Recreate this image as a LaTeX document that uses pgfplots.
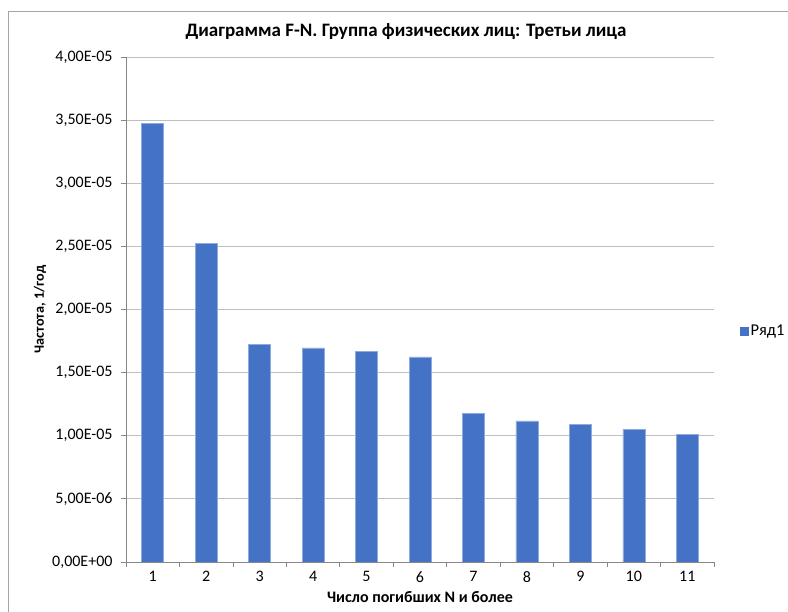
\documentclass[border=0pt]{standalone}
\usepackage{pgfplots}
\pgfplotsset{compat=1.18}
\usepackage{fontspec}
\setmainfont{Carlito}
\definecolor{barblue}{HTML}{4472C4}
\definecolor{baredge}{HTML}{8FAADC}
\definecolor{gridgray}{HTML}{BFBFBF}
\definecolor{axisgray}{HTML}{868686}
\definecolor{framegray}{HTML}{A6A6A6}
\begin{document}
\begin{tikzpicture}[x=1pt,y=1pt]
\useasboundingbox (0,0) rectangle (788,612);
% chart frame
\draw[framegray, line width=1pt] (8,-2) -- (8,600) -- (790,600);
\begin{axis}[
  at={(126pt,50pt)}, anchor=south west,
  width=588pt, height=505pt, scale only axis,
  xmin=0.5, xmax=11.5, ymin=0, ymax=4e-5,
  axis lines=left,
  axis line style={-, draw=axisgray, line width=0.8pt},
  ybar, bar width=22pt,
  tick align=outside,
  major tick length=5pt,
  tick style={draw=axisgray, line width=0.8pt},
  xtick={0.5,1.5,...,11.5}, xticklabels={},
  extra x ticks={1,2,3,4,5,6,7,8,9,10,11},
  extra x tick labels={1,2,3,4,5,6,7,8,9,10,11},
  extra x tick style={major tick length=0pt, grid=none,
    xticklabel style={yshift=-6pt}},
  ytick={0,0.000005,0.00001,0.000015,0.00002,0.000025,0.00003,0.000035,0.00004},
  yticklabels={{0,00E+00},{5,00E-06},{1,00E-05},{1,50E-05},{2,00E-05},{2,50E-05},{3,00E-05},{3,50E-05},{4,00E-05}},
  yticklabel style={xshift=-5pt},
  scaled y ticks=false,
  ymajorgrids, grid style={draw=gridgray, line width=0.8pt},
  tick label style={font=\fontsize{16}{18}\selectfont, text=black},
  /pgf/number format/assume math mode=true,
  title={Диаграмма F-N. Группа физических лиц: Третьи лица},
  title style={at={(axis description cs:0.5,1)}, anchor=center, yshift=19pt, xshift=-14pt, font=\bfseries\fontsize{19}{22}\selectfont},
  xlabel={Число погибших N и более},
  xlabel style={at={(axis description cs:0.5,0)}, anchor=center, yshift=-35pt, font=\bfseries\fontsize{16}{18}\selectfont},
  ylabel={Частота, 1/год},
  ylabel style={at={(axis description cs:0,0.5)}, anchor=center, yshift=86pt, font=\bfseries\fontsize{14.2}{17}\selectfont},
  legend style={at={(axis description cs:1.044,0.457)}, anchor=west, draw=none, fill=none, inner sep=0pt, font=\fontsize{16.5}{18}\selectfont},
  legend image code/.code={\fill[barblue] (0pt,-4pt) rectangle (8pt,4pt);},
  legend cell align=left,
]
\addplot[fill=barblue, draw=baredge, line width=0.6pt] coordinates {
  (1,3.476e-5) (2,2.524e-5) (3,1.722e-5) (4,1.696e-5) (5,1.667e-5) (6,1.625e-5)
  (7,1.175e-5) (8,1.117e-5) (9,1.093e-5) (10,1.050e-5) (11,1.008e-5)
};
\legend{Ряд1}
\end{axis}
\end{tikzpicture}
\end{document}
